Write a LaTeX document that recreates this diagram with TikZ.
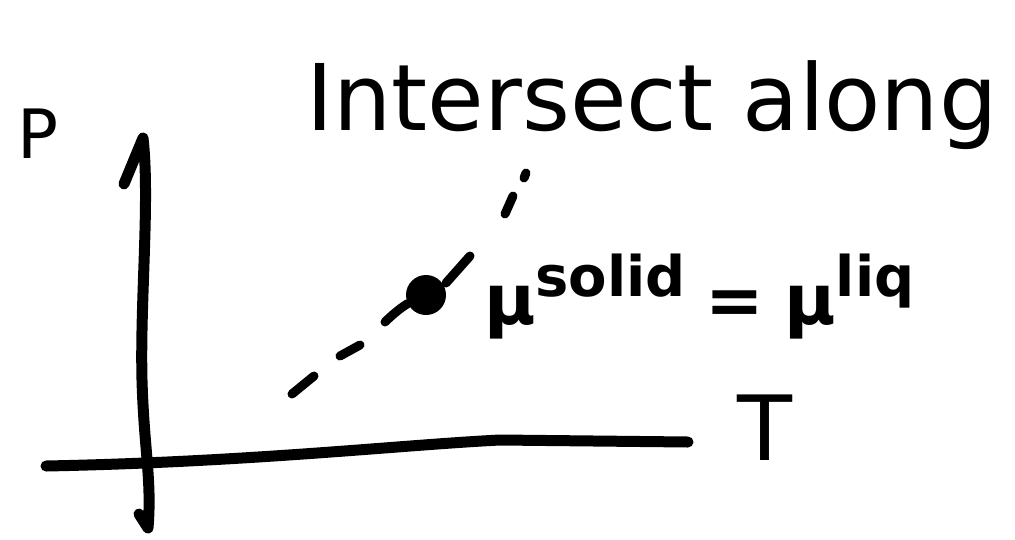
\documentclass[tikz,border=0pt]{standalone}
\usepackage{fontspec}
\setmainfont{DejaVu Sans}
\newcommand{\supx}[1]{\raisebox{0.40em}{\fontsize{56}{58}\selectfont #1}}
\begin{document}
\begin{tikzpicture}[x=1pt,y=-1pt,
  pen/.style={line width=11pt,line cap=round,line join=round,black},
  dashpen/.style={line width=9pt,line cap=round,black},
  lbl/.style={inner sep=0pt,outer sep=0pt}]
\useasboundingbox (0,0) rectangle (1015,539);
% texts
\node[lbl,font=\fontsize{92}{96}\selectfont] (title) at (652,105) {Intersect along};
\node[lbl,font=\fontsize{68}{72}\selectfont] (P) at (38,134) {P};
\node[lbl,font=\fontsize{90}{94}\selectfont] (T) at (765,428) {T};
\node[lbl,anchor=base west,font=\fontsize{70}{72}\selectfont\bfseries] (eq) at (484,324) {μ\supx{solid}\hspace{20pt}=\hspace{20pt}μ\supx{liq}};
% axes
\coordinate (ptop) at (143,138);
\coordinate (phook) at (124,184);
\coordinate (pbot) at (148,528);
\coordinate (tleft) at (46,466);
\coordinate (tright) at (688,442);
\draw[pen] (phook) -- (ptop) .. controls (150,200) and (140,300) .. (142,380) .. controls (144,450) and (152,480) .. (pbot) -- (139,514);
\draw[pen] (tleft) .. controls (250,462) and (400,445) .. (500,440) -- (tright);
% point and dashed line
\coordinate (d1) at (524,178);
\node[circle,fill=black,minimum width=40pt,minimum height=36pt,inner sep=0pt] (dot) at (426,295) {};
\draw[dashpen] (292,394) -- (314,376);
\draw[dashpen] (340,356) -- (360,345);
\draw[dashpen] (385,322) .. controls (395,312) and (405,305) .. (dot);
\draw[dashpen] (446,283) -- (470,256);
\draw[dashpen] (505,214) -- (513,196);
\draw[dashpen] (d1) -- (526,173);
\end{tikzpicture}
\end{document}
